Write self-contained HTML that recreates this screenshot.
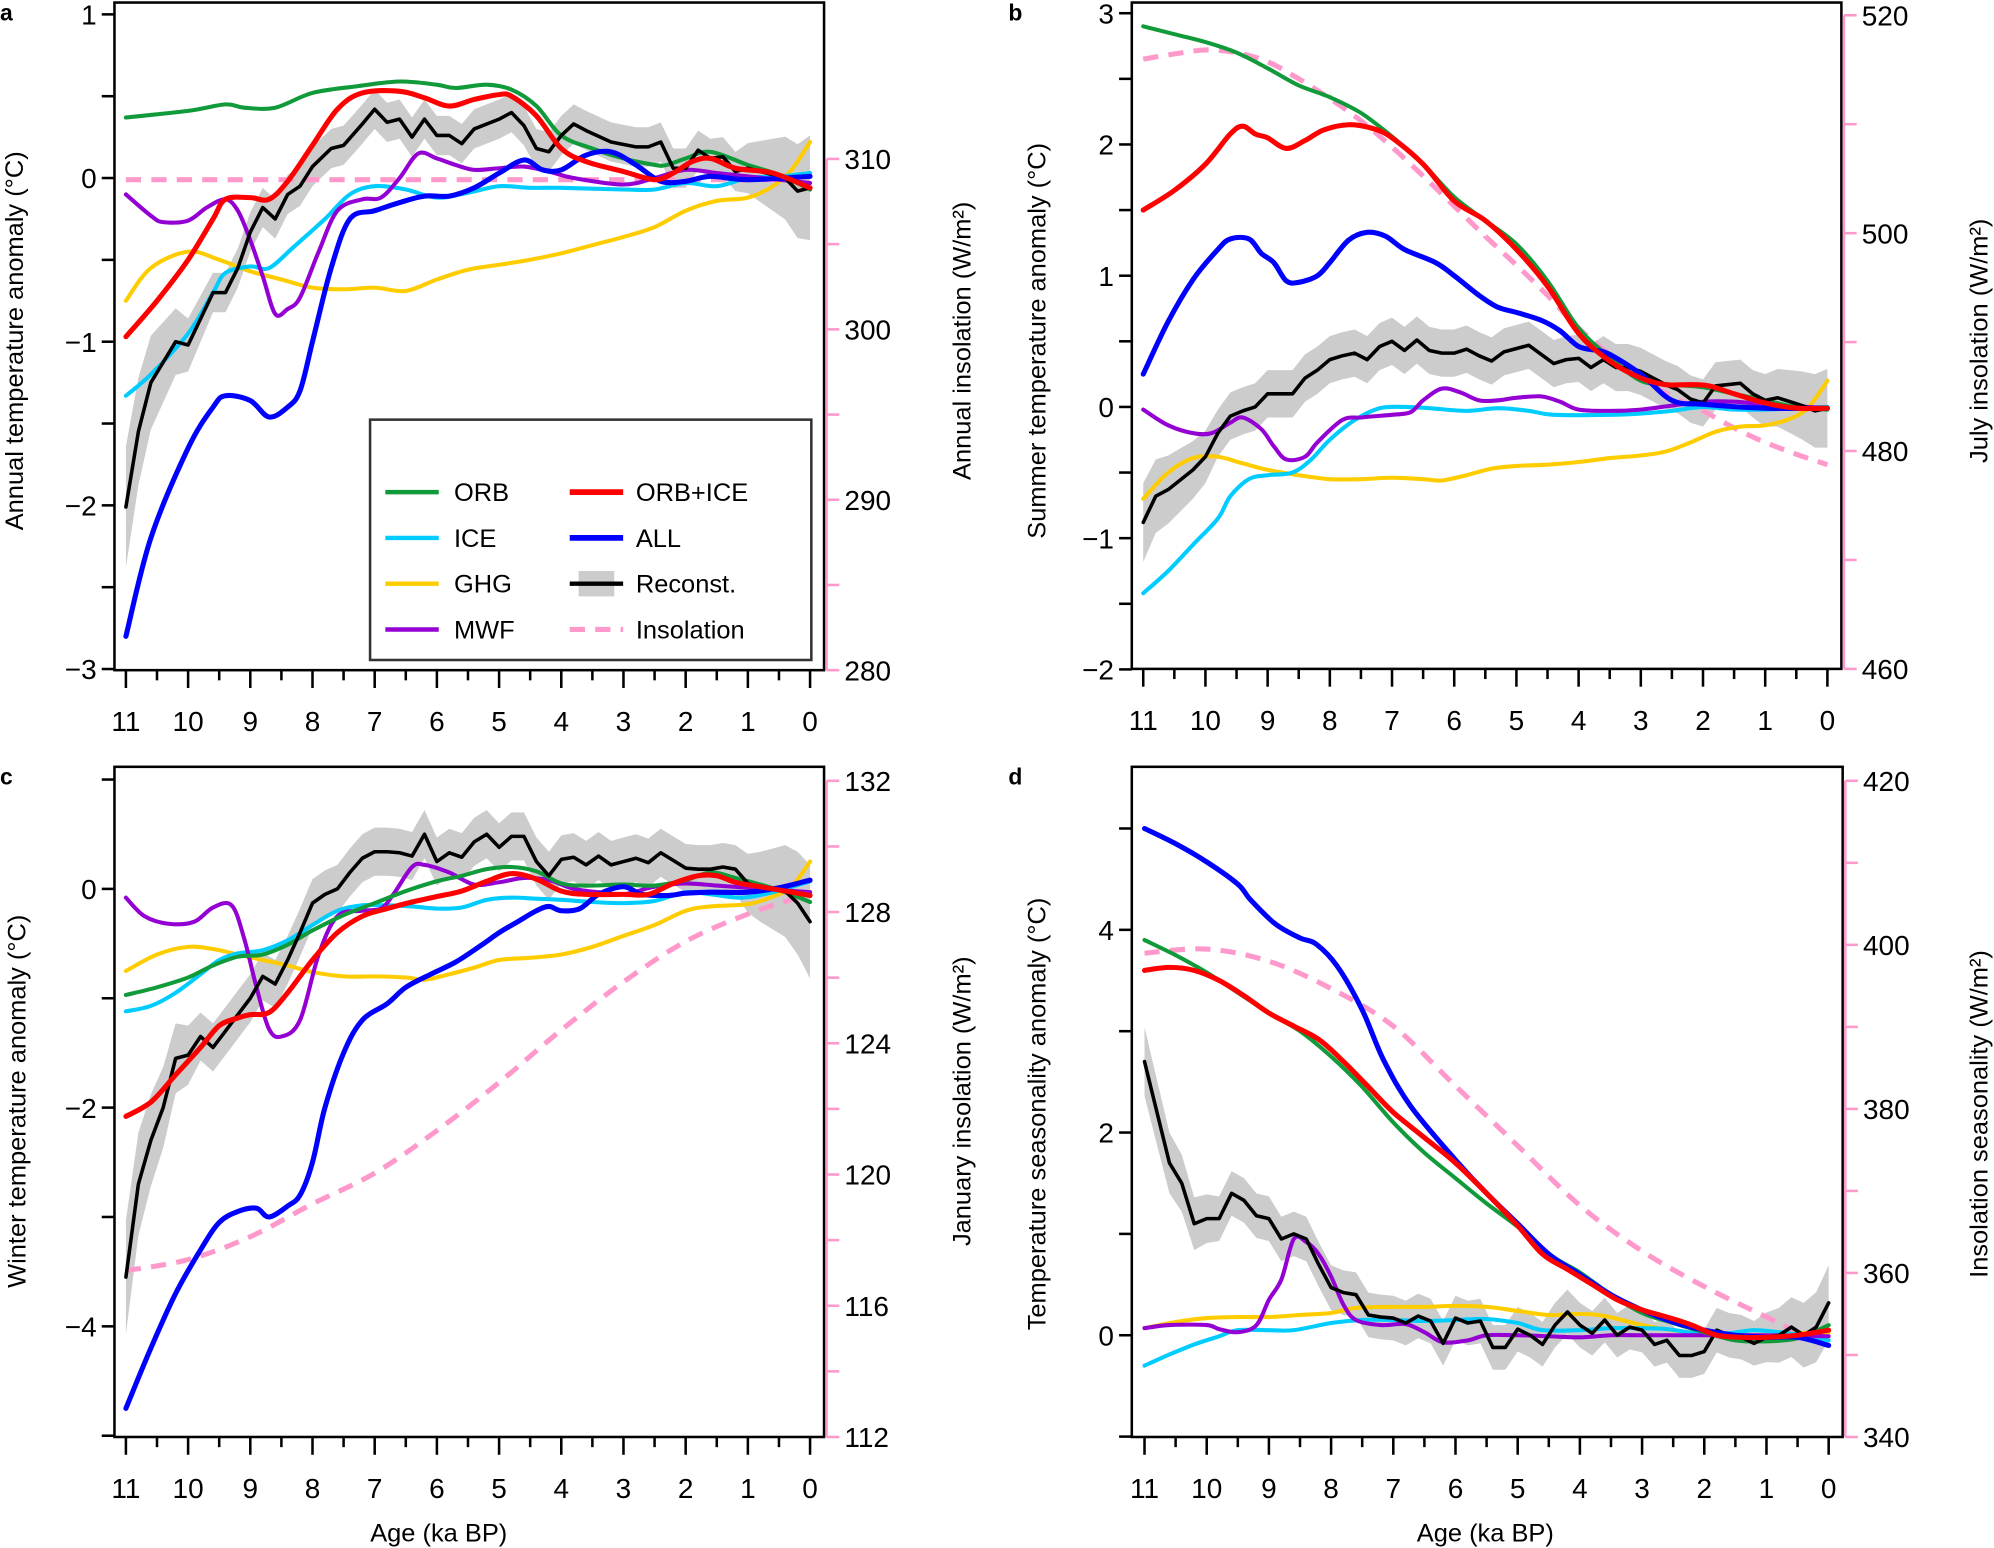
<!DOCTYPE html>
<html><head><meta charset="utf-8"><style>
html,body{margin:0;padding:0;background:#fff}
svg{display:block}
text{font-family:"Liberation Sans",sans-serif;fill:#000}
</style></head><body>
<svg id="s" xmlns="http://www.w3.org/2000/svg" width="1994" height="1548" viewBox="0 0 1568 1217.3">
<rect width="1568" height="1218" fill="#fff"/>
<g id="g"></g>
<text x="0" y="16" font-size="18" font-weight="bold">a</text>
<text x="793" y="16" font-size="18" font-weight="bold">b</text>
<text x="0" y="617" font-size="18" font-weight="bold">c</text>
<text x="793" y="617" font-size="18" font-weight="bold">d</text>
<text font-size="20" text-anchor="middle" transform="translate(18,268) rotate(-90)">Annual temperature anomaly (°C)</text>
<text font-size="20" text-anchor="middle" transform="translate(763,268) rotate(-90)">Annual insolation (W/m²)</text>
<text font-size="20" text-anchor="middle" transform="translate(822,268) rotate(-90)">Summer temperature anomaly (°C)</text>
<text font-size="20" text-anchor="middle" transform="translate(1563,268) rotate(-90)">July insolation (W/m²)</text>
<text font-size="20" text-anchor="middle" transform="translate(20,866) rotate(-90)">Winter temperature anomaly (°C)</text>
<text font-size="20" text-anchor="middle" transform="translate(763,866) rotate(-90)">January insolation (W/m²)</text>
<text font-size="20" text-anchor="middle" transform="translate(822,876) rotate(-90)">Temperature seasonality anomaly (°C)</text>
<text font-size="20" text-anchor="middle" transform="translate(1563,876) rotate(-90)">Insolation seasonality (W/m²)</text>
<text x="345" y="1212" font-size="20" text-anchor="middle">Age (ka BP)</text>
<text x="1168" y="1212" font-size="20" text-anchor="middle">Age (ka BP)</text>
<rect x="291" y="330" width="347" height="189" fill="#fff" stroke="#333" stroke-width="2"/>
<g stroke-width="3.5" fill="none">
<line x1="303" y1="387" x2="345" y2="387" stroke="#119a3a"/>
<line x1="303" y1="423" x2="345" y2="423" stroke="#00ccff"/>
<line x1="303" y1="459" x2="345" y2="459" stroke="#ffcc00"/>
<line x1="303" y1="495" x2="345" y2="495" stroke="#9400d3"/>
<line x1="448" y1="387" x2="490" y2="387" stroke="#ff0000" stroke-width="4.5"/>
<line x1="448" y1="423" x2="490" y2="423" stroke="#0000ff" stroke-width="4.5"/>
<rect x="455" y="449" width="28" height="20" fill="#cccccc" stroke="none"/>
<line x1="448" y1="459" x2="490" y2="459" stroke="#000"/>
<line x1="448" y1="495" x2="490" y2="495" stroke="#ff99cc" stroke-dasharray="12,8" stroke-width="4"/>
</g>
<g font-size="20">
<text x="357" y="394">ORB</text><text x="357" y="430">ICE</text><text x="357" y="466">GHG</text><text x="357" y="502">MWF</text>
<text x="500" y="394">ORB+ICE</text><text x="500" y="430">ALL</text><text x="500" y="466">Reconst.</text><text x="500" y="502">Insolation</text>
</g>
</svg>
<script>
var NS="http://www.w3.org/2000/svg",G=document.getElementById('g');
function el(t,a,p){var e=document.createElementNS(NS,t);for(var k in a)e.setAttribute(k,a[k]);(p||G).appendChild(e);return e;}
function txt(x,y,s,fs,anc,col){var e=el('text',{x:x,y:y,'font-size':fs,'text-anchor':anc||'middle'});if(col)e.setAttribute('fill',col);e.textContent=s;return e;}
var C={g:'#119a3a',c:'#00ccff',y:'#ffcc00',p:'#9400d3',r:'#ff0000',b:'#0000ff',k:'#000',i:'#ff99cc'};
function smooth(pts){var d='M'+pts[0][0].toFixed(1)+','+pts[0][1].toFixed(1);
for(var i=0;i<pts.length-1;i++){var p0=pts[i-1]||pts[i],p1=pts[i],p2=pts[i+1],p3=pts[i+2]||p2;
var c1=[p1[0]+(p2[0]-p0[0])/6,p1[1]+(p2[1]-p0[1])/6],c2=[p2[0]-(p3[0]-p1[0])/6,p2[1]-(p3[1]-p1[1])/6];
d+='C'+c1[0].toFixed(1)+','+c1[1].toFixed(1)+' '+c2[0].toFixed(1)+','+c2[1].toFixed(1)+' '+p2[0].toFixed(1)+','+p2[1].toFixed(1);}return d;}
function panel(P){
 var X=function(a){return P.x11+(11-a)*(P.x0-P.x11)/11;};
 var Y=function(v){return P.y0-v*P.sy;};
 var k=P.s.k,up=[],lo=[];
 k.forEach(function(q){var a=q[0];var w=P.w[0]+P.w[1]*Math.max(0,1-(11-a)/1.2)+P.w[2]*Math.max(0,1-a/1.2);
  up.push([X(a),Y(q[1]+w)]);lo.push([X(a),Y(q[1]-w)]);});
 var d='M'+up.map(function(p){return p[0].toFixed(1)+','+p[1].toFixed(1)}).join('L')+'L'+lo.reverse().map(function(p){return p[0].toFixed(1)+','+p[1].toFixed(1)}).join('L')+'Z';
 el('path',{d:d,fill:'#cccccc'});
 var order=['i','y','c','p','g','k','b','r'];
 order.forEach(function(key){var s=P.s[key];if(!s)return;var pts=s.map(function(q){return [X(q[0]),Y(q[1])]});
  var a={fill:'none',stroke:C[key],'stroke-width':(key=='r'||key=='b')?4:3.2,'stroke-linejoin':'round','stroke-linecap':'round'};
  if(key=='i'){a['stroke-dasharray']='12,8';a['stroke-width']=4;a['stroke-linecap']='butt';}
  if(key=='k'){a.d='M'+pts.map(function(p){return p[0].toFixed(1)+','+p[1].toFixed(1)}).join('L');a['stroke-width']=2.8;}
  else a.d=smooth(pts);
  el('path',a);});
 el('rect',{x:P.L,y:P.T,width:P.R-P.L,height:P.B-P.T,fill:'none',stroke:'#000','stroke-width':2});
 for(var h=0;h<=22;h++){var a=h/2,x=X(a);el('line',{x1:x,y1:P.B,x2:x,y2:P.B+(h%2==0?14:8),stroke:'#000','stroke-width':2});
  if(h%2==0)txt(x,P.B+48,String(a),22);}
 P.ly.forEach(function(t){var y=Y(t[0]);el('line',{x1:P.L-10,y1:y,x2:P.L,y2:y,stroke:'#000','stroke-width':2});if(t[1])txt(P.L-14,y+8,t[1],22,'end');});
 var RY=function(I){return P.ry0+(I-P.rI0)*(P.ry1-P.ry0)/(P.rI1-P.rI0);};
 var rx=P.R+2;
 el('line',{x1:rx,y1:RY(P.rI0),x2:rx,y2:RY(P.rI1),stroke:C.i,'stroke-width':2});
 for(var I=P.rI0;I<=P.rI1+1e-6;I+=P.rstep){var y=RY(I);var lab=Math.round((I-P.rI0)/P.rstep)%2==0;
  el('line',{x1:rx,y1:y,x2:rx+10,y2:y,stroke:C.i,'stroke-width':2});
  if(lab)txt(rx+14,y+8,String(Math.round(I)),22,'start');}
}
var A={x11:99,x0:637,y0:140,sy:128.7,L:90,R:648,T:2,B:527,w:[.12,.25,.2],
 ly:[[1,'1'],[.5],[0,'0'],[-.5],[-1,'\u22121'],[-1.5],[-2,'\u22122'],[-2.5],[-3,'\u22123']],
 ry0:527,rI0:280,ry1:125,rI1:310,rstep:5,
 s:{g:[[11,.37],[10,.41],[9.4,.45],[9.1,.43],[8.6,.43],[8,.52],[7.3,.56],[6.6,.59],[6,.57],[5.7,.55],[5.2,.57],[4.8,.54],[4.4,.44],[4,.26],[3.5,.18],[3,.12],[2.5,.08],[2.3,.08],[2,.12],[1.6,.16],[1,.08],[0.5,.02],[0,-.07]],
 r:[[11,-.97],[10.5,-.75],[10,-.5],[9.6,-.25],[9.4,-.13],[9,-.12],[8.7,-.13],[8.4,-.02],[8,.2],[7.6,.42],[7.2,.52],[6.6,.53],[6.2,.49],[5.8,.44],[5.4,.48],[5,.51],[4.8,.5],[4.4,.38],[4,.18],[3.6,.1],[3,.04],[2.5,-.01],[2.2,.03],[1.9,.1],[1.6,.12],[1.2,.06],[0.6,.03],[0,-.06]],
 c:[[11,-1.33],[10.6,-1.2],[10,-.95],[9.6,-.7],[9.4,-.58],[9,-.54],[8.7,-.55],[8.3,-.42],[7.8,-.25],[7.4,-.1],[7,-.05],[6.5,-.07],[6,-.12],[5.5,-.09],[5,-.05],[4.5,-.06],[4,-.06],[3,-.07],[2.5,-.07],[2,-.03],[1.5,-.05],[1,0],[0.5,.01],[0,.03]],
 y:[[11,-.75],[10.6,-.55],[10,-.45],[9.5,-.5],[9,-.57],[8.5,-.62],[8,-.67],[7.5,-.68],[7,-.67],[6.5,-.69],[6,-.62],[5.5,-.56],[5,-.53],[4.5,-.5],[4,-.46],[3.5,-.41],[3,-.36],[2.5,-.3],[2,-.2],[1.5,-.14],[1,-.12],[0.6,-.05],[0.3,.05],[0,.22]],
 p:[[11,-.1],[10.6,-.23],[10.4,-.27],[10,-.26],[9.7,-.18],[9.4,-.13],[9.2,-.2],[9,-.38],[8.8,-.6],[8.6,-.83],[8.4,-.8],[8.2,-.73],[7.9,-.45],[7.6,-.2],[7.2,-.13],[6.9,-.12],[6.6,0],[6.3,.15],[6,.12],[5.7,.08],[5.4,.05],[5,.06],[4.6,.07],[4.2,.04],[3.8,0],[3,-.04],[2.5,0],[2,.05],[1.5,.03],[1,.01],[0,-.03]],
 b:[[11,-2.8],[10.6,-2.2],[10,-1.65],[9.6,-1.4],[9.4,-1.33],[9,-1.36],[8.7,-1.46],[8.4,-1.4],[8.2,-1.3],[8,-1.0],[7.7,-.55],[7.4,-.25],[7,-.2],[6.6,-.15],[6.2,-.11],[5.8,-.11],[5.4,-.06],[5,.03],[4.6,.11],[4.3,.05],[4,.05],[3.6,.14],[3.2,.16],[2.8,.08],[2.4,-.02],[2,-.02],[1.6,.01],[1,-.01],[0,.01]],
 k:[[11,-2.01],[10.8,-1.55],[10.6,-1.25],[10.2,-1.0],[10,-1.02],[9.6,-.7],[9.4,-.7],[9.2,-.55],[9,-.33],[8.8,-.18],[8.6,-.25],[8.4,-.1],[8.2,-.05],[8,.07],[7.7,.18],[7.5,.2],[7.2,.33],[7,.42],[6.8,.34],[6.6,.36],[6.4,.25],[6.2,.36],[6,.26],[5.8,.26],[5.6,.21],[5.4,.3],[5,.36],[4.8,.4],[4.6,.32],[4.4,.18],[4.2,.16],[4,.26],[3.8,.33],[3.6,.29],[3.2,.22],[2.8,.19],[2.6,.19],[2.4,.22],[2.2,.06],[2,.06],[1.8,.17],[1.6,.12],[1.4,.13],[1.2,.04],[1,.06],[0.8,.04],[0.6,.02],[0.4,0],[0.2,-.08],[0,-.06]],
 i:[[11,-.01],[5.5,-.01],[0,-.01]]}};
var B={x11:899,x0:1437,y0:320,sy:103.2,L:890,R:1448,T:2,B:526,w:[.18,.12,.12],
 ly:[[3,'3'],[2.5],[2,'2'],[1.5],[1,'1'],[.5],[0,'0'],[-.5],[-1,'\u22121'],[-1.5],[-2,'\u22122']],
 ry0:526,rI0:460,ry1:12,rI1:520,rstep:10,
 s:{g:[[11,2.9],[10.5,2.84],[10,2.78],[9.5,2.7],[9,2.58],[8.5,2.45],[8,2.36],[7.5,2.24],[7,2.06],[6.5,1.85],[6,1.6],[5.5,1.42],[5,1.24],[4.5,.96],[4,.6],[3.5,.38],[3,.2],[2.5,.17],[2,.15],[1.5,.1],[1,.05],[0.5,0],[0,-.02]],
 r:[[11,1.5],[10.5,1.65],[10,1.85],[9.6,2.08],[9.4,2.14],[9.2,2.08],[9,2.05],[8.7,1.97],[8.4,2.03],[8.1,2.11],[7.7,2.15],[7.3,2.12],[7,2.05],[6.5,1.85],[6,1.57],[5.5,1.42],[5,1.2],[4.5,.92],[4,.56],[3.5,.35],[3,.22],[2.6,.17],[2.2,.17],[1.9,.16],[1.5,.1],[1,.03],[0.5,-.01],[0,-.01]],
 b:[[11,.25],[10.6,.65],[10.2,.97],[9.8,1.2],[9.6,1.28],[9.3,1.28],[9.1,1.17],[8.9,1.1],[8.7,.96],[8.5,.95],[8.2,1.0],[8,1.1],[7.7,1.27],[7.4,1.33],[7.1,1.3],[6.8,1.2],[6.3,1.1],[6,1.0],[5.6,.85],[5.3,.76],[5,.72],[4.6,.66],[4.3,.58],[4,.46],[3.7,.43],[3.5,.4],[3,.25],[2.5,.05],[2,.02],[1,-.01],[0,-.01]],
 k:[[11,-.88],[10.8,-.68],[10.6,-.63],[10.2,-.48],[10,-.38],[9.8,-.2],[9.6,-.07],[9.4,-.03],[9.2,0],[9,.1],[8.6,.1],[8.4,.22],[8.2,.28],[8,.36],[7.8,.39],[7.6,.41],[7.4,.36],[7.2,.46],[7,.5],[6.8,.43],[6.6,.51],[6.4,.43],[6.2,.41],[6,.41],[5.8,.44],[5.6,.39],[5.4,.35],[5.2,.42],[4.8,.47],[4.6,.4],[4.4,.33],[4.2,.36],[4,.37],[3.8,.3],[3.6,.36],[3.4,.3],[3.2,.3],[3,.27],[2.6,.17],[2.4,.13],[2.2,.06],[2,.03],[1.8,.16],[1.4,.18],[1.2,.1],[1,.05],[0.8,.07],[0.6,.04],[0.4,.01],[0.2,-.03],[0,-.01]],
 p:[[11,-.02],[10.6,-.14],[10.2,-.2],[9.9,-.2],[9.6,-.12],[9.4,-.08],[9.1,-.17],[8.9,-.3],[8.7,-.4],[8.4,-.38],[8.2,-.27],[7.8,-.1],[7.5,-.08],[7,-.06],[6.7,-.04],[6.5,.05],[6.2,.14],[5.9,.11],[5.6,.05],[5.3,.05],[5,.07],[4.6,.08],[4.3,.04],[4,-.02],[3.5,-.03],[3,-.02],[2.5,.01],[2,.04],[1.5,.04],[1,.02],[0,-.01]],
 c:[[11,-1.42],[10.6,-1.25],[10.2,-1.05],[9.8,-.85],[9.6,-.68],[9.3,-.55],[9,-.52],[8.6,-.5],[8.3,-.4],[8,-.25],[7.6,-.1],[7.2,-.01],[6.8,0],[6.4,-.01],[5.8,-.03],[5.3,-.01],[4.8,-.03],[4.4,-.06],[3.5,-.06],[3,-.05],[2.5,-.03],[2,0],[1.5,-.02],[1,-.02],[0,0]],
 y:[[11,-.7],[10.6,-.5],[10.2,-.39],[9.8,-.38],[9.4,-.43],[9,-.48],[8.5,-.52],[8,-.55],[7.5,-.55],[7,-.54],[6.5,-.55],[6.2,-.56],[5.8,-.52],[5.4,-.47],[5,-.45],[4.5,-.44],[4,-.42],[3.5,-.39],[3,-.37],[2.6,-.34],[2.2,-.27],[1.8,-.19],[1.4,-.15],[1,-.14],[0.6,-.09],[0.3,0],[0,.2]],
 i:[[11,2.65],[10.5,2.69],[10,2.72],[9.5,2.7],[9,2.63],[8.5,2.5],[8,2.35],[7.5,2.18],[7,1.98],[6.5,1.76],[6,1.53],[5.5,1.3],[5,1.08],[4.5,.85],[4,.6],[3.5,.4],[3,.22],[2.5,.08],[2,-.03],[1.5,-.16],[1,-.27],[0.5,-.36],[0,-.44]]}};
var Cc={x11:99,x0:637,y0:699,sy:86,L:90,R:648,T:603,B:1130,w:[.22,.3,.3],
 ly:[[1],[0,'0'],[-1],[-2,'\u22122'],[-3],[-4,'\u22124'],[-5]],
 ry0:1130,rI0:112,ry1:614,rI1:132,rstep:2,
 s:{k:[[11,-3.55],[10.8,-2.7],[10.6,-2.3],[10.4,-2.0],[10.2,-1.55],[10,-1.52],[9.8,-1.35],[9.6,-1.45],[9.4,-1.3],[9.2,-1.15],[9,-1.0],[8.8,-.8],[8.6,-.87],[8.4,-.65],[8.2,-.4],[8,-.13],[7.8,-.05],[7.6,0],[7.4,.15],[7.2,.28],[7,.34],[6.8,.34],[6.6,.33],[6.4,.3],[6.2,.5],[6,.25],[5.8,.33],[5.6,.29],[5.4,.43],[5.2,.5],[5,.38],[4.8,.48],[4.6,.48],[4.4,.25],[4.2,.12],[4,.27],[3.8,.29],[3.6,.22],[3.4,.3],[3.2,.22],[3,.25],[2.8,.28],[2.6,.24],[2.4,.33],[2.2,.26],[2,.19],[1.8,.18],[1.6,.18],[1.4,.2],[1.2,.18],[1,.05],[0.8,.02],[0.6,0],[0.4,-.02],[0.2,-.13],[0,-.3]],
 r:[[11,-2.08],[10.6,-1.95],[10.2,-1.7],[9.8,-1.45],[9.5,-1.25],[9.2,-1.18],[9,-1.15],[8.7,-1.13],[8.4,-.95],[8,-.65],[7.6,-.4],[7.2,-.25],[6.8,-.18],[6.4,-.12],[6,-.07],[5.6,-.02],[5.2,.07],[4.8,.14],[4.4,.09],[4,-.02],[3.6,-.05],[3,-.05],[2.6,-.05],[2.2,.05],[1.8,.12],[1.5,.12],[1.2,.06],[0.8,.02],[0.4,-.02],[0,-.06]],
 g:[[11,-.97],[10.5,-.9],[10,-.81],[9.6,-.7],[9.2,-.62],[8.8,-.6],[8.4,-.51],[8,-.38],[7.5,-.24],[7,-.13],[6.5,-.02],[6,.07],[5.6,.12],[5.2,.18],[4.8,.2],[4.4,.16],[4,.05],[3.6,.03],[3,.04],[2.5,.03],[2,.08],[1.6,.15],[1.2,.1],[0.8,.04],[0.4,-.03],[0,-.12]],
 c:[[11,-1.12],[10.6,-1.07],[10.2,-.95],[9.8,-.78],[9.5,-.65],[9.2,-.59],[8.8,-.56],[8.4,-.47],[8,-.33],[7.6,-.2],[7.2,-.15],[6.8,-.15],[6.4,-.16],[6,-.18],[5.6,-.17],[5.2,-.1],[4.8,-.08],[4.4,-.09],[4,-.1],[3.5,-.12],[3,-.13],[2.5,-.11],[2,-.03],[1.6,-.05],[1.1,-.08],[0.6,-.03],[0,.07]],
 y:[[11,-.75],[10.5,-.6],[10,-.53],[9.6,-.55],[9.2,-.6],[8.8,-.65],[8.4,-.7],[8,-.76],[7.5,-.8],[7,-.8],[6.5,-.81],[6.2,-.83],[5.8,-.78],[5.4,-.72],[5,-.65],[4.5,-.63],[4,-.6],[3.5,-.53],[3,-.43],[2.5,-.33],[2,-.2],[1.6,-.16],[1,-.14],[0.6,-.07],[0.3,.02],[0,.25]],
 p:[[11,-.08],[10.7,-.25],[10.3,-.32],[9.9,-.3],[9.6,-.17],[9.3,-.15],[9.1,-.45],[8.9,-.9],[8.7,-1.28],[8.5,-1.35],[8.2,-1.2],[7.9,-.6],[7.6,-.25],[7.2,-.2],[6.9,-.18],[6.7,-.05],[6.4,.2],[6.2,.22],[5.8,.15],[5.4,.04],[5,.06],[4.6,.1],[4.2,.08],[3.8,0],[3.4,-.03],[3,-.05],[2.5,.02],[2,.05],[1.5,.03],[1,.01],[0,-.03]],
 b:[[11,-4.75],[10.6,-4.2],[10.2,-3.7],[9.8,-3.3],[9.5,-3.05],[9.2,-2.95],[8.9,-2.92],[8.7,-3.0],[8.4,-2.9],[8.2,-2.8],[8,-2.5],[7.8,-2.0],[7.5,-1.5],[7.2,-1.2],[6.8,-1.05],[6.5,-0.9],[6.1,-.78],[5.7,-.67],[5.3,-.52],[5,-.4],[4.7,-.3],[4.4,-.2],[4.2,-.16],[4,-.2],[3.7,-.18],[3.4,-.05],[3,.02],[2.7,-.05],[2.3,-.06],[2,-.04],[1.6,-.03],[1,-.03],[0.5,.01],[0,.08]],
 i:[[11,-3.49],[10,-3.39],[9,-3.18],[8,-2.88],[7,-2.6],[6,-2.21],[5,-1.77],[4,-1.29],[3,-.85],[2,-.48],[1,-.23],[0.2,-.08]]}};
var D={x11:900,x0:1438,y0:1050,sy:79.7,L:890,R:1449,T:603,B:1130,w:[.22,.12,.15],
 ly:[[5],[4,'4'],[3],[2,'2'],[1],[0,'0'],[-1]],
 ry0:1130,rI0:340,ry1:614,rI1:420,rstep:10,
 s:{b:[[11,5.0],[10.5,4.85],[10,4.67],[9.5,4.45],[9.3,4.3],[8.9,4.06],[8.5,3.92],[8.24,3.86],[7.9,3.64],[7.5,3.21],[7.16,2.72],[6.72,2.26],[6,1.73],[5.5,1.4],[5,1.1],[4.5,.8],[4,.6],[3.5,.4],[3,.25],[2.5,.13],[2,.05],[1.5,.0],[1,-.02],[0.5,-.02],[0,-.1]],
 r:[[11,3.6],[10.6,3.63],[10.2,3.6],[9.8,3.5],[9.4,3.35],[9,3.18],[8.6,3.05],[8.2,2.92],[7.8,2.7],[7.4,2.45],[7,2.2],[6.5,1.95],[6,1.7],[5.5,1.4],[5,1.08],[4.6,.8],[4.2,.65],[3.8,.5],[3.4,.35],[3,.25],[2.6,.18],[2.2,.1],[1.8,.0],[1.4,-.02],[1,-.02],[0.5,0],[0,.05]],
 g:[[11,3.9],[10.5,3.75],[10,3.58],[9.5,3.38],[9,3.18],[8.5,3.0],[8,2.75],[7.5,2.45],[7,2.1],[6.5,1.8],[6,1.55],[5.5,1.3],[5,1.07],[4.5,.8],[4,.62],[3.5,.4],[3,.22],[2.5,.12],[2,.03],[1.5,-.05],[1,-.06],[0.5,-.03],[0,.1]],
 i:[[11,3.77],[10,3.81],[9,3.69],[8,3.42],[7,3.05],[6,2.46],[5,1.87],[4,1.28],[3,.83],[2,.48],[1,.18],[0,-.12]],
 k:[[11,2.7],[10.8,2.2],[10.6,1.7],[10.4,1.5],[10.2,1.1],[10,1.15],[9.8,1.15],[9.6,1.4],[9.4,1.33],[9.2,1.18],[9,1.15],[8.8,.95],[8.6,1.0],[8.4,.95],[8.2,.7],[8,.47],[7.8,.42],[7.6,.4],[7.4,.2],[7.2,.18],[7,.17],[6.8,.12],[6.6,.19],[6.4,.14],[6.2,-.08],[6,.17],[5.8,.12],[5.6,.14],[5.4,-.12],[5.2,-.12],[5,.06],[4.8,0],[4.6,-.09],[4.4,.1],[4.2,.23],[4,.1],[3.8,.02],[3.6,.15],[3.4,.0],[3.2,.08],[3,.05],[2.8,-.09],[2.6,-.05],[2.4,-.2],[2.2,-.2],[2,-.16],[1.8,.05],[1.6,0],[1.4,-.02],[1.2,-.08],[1,-.02],[0.8,.0],[0.6,.08],[0.4,.0],[0.2,.08],[0,.32]],
 p:[[11,.07],[10.6,.1],[10,.1],[9.8,.06],[9.5,.03],[9.2,.1],[9,.35],[8.8,.55],[8.6,.95],[8.4,.92],[8.2,.8],[8,.58],[7.8,.3],[7.6,.15],[7.2,.1],[6.8,.11],[6.5,.03],[6.2,-.07],[5.8,-.05],[5.5,0],[5,.0],[4.5,-.01],[4,-.02],[3.5,0],[3,0],[2.5,0],[2,0],[1,0],[0,-.01]],
 y:[[11,.07],[10.5,.13],[10,.17],[9.5,.18],[9,.18],[8.5,.2],[8,.22],[7.6,.27],[7,.28],[6.5,.28],[6,.29],[5.5,.28],[5,.24],[4.5,.2],[4,.21],[3.6,.19],[3,.1],[2.5,.05],[2,.01],[1.5,0],[1,0],[0.5,.02],[0,.03]],
 c:[[11,-.3],[10.6,-.19],[10.2,-.09],[9.8,-.01],[9.5,.05],[9,.05],[8.6,.05],[8,.12],[7.5,.15],[7,.15],[6.5,.14],[6,.15],[5.5,.16],[5,.12],[4.6,.05],[4,.05],[3.5,.07],[3,.07],[2.6,.06],[2,.01],[1.6,.02],[1.2,.05],[0.8,.03],[0.4,.0],[0,-.05]]}};
[A,B,Cc,D].forEach(panel);
</script>
</body></html>
